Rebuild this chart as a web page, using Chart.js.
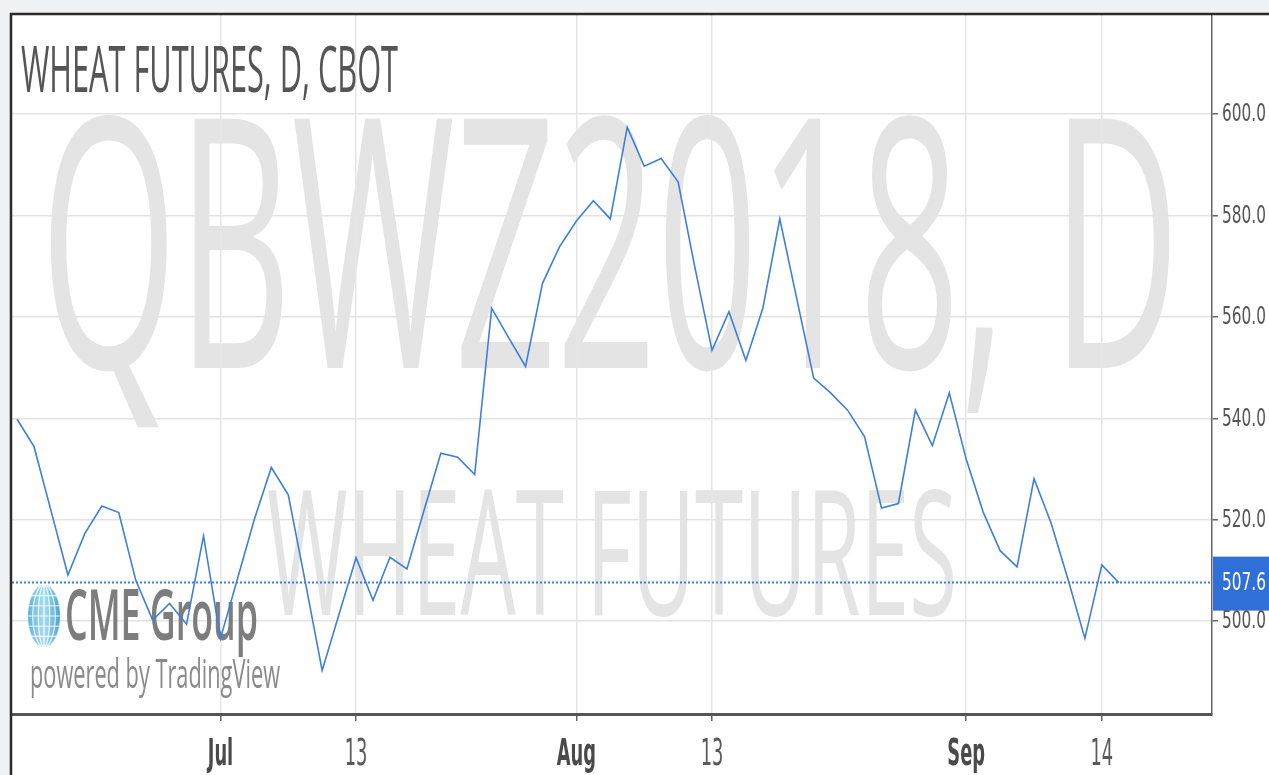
<!DOCTYPE html>
<html>
<head>
<meta charset="utf-8">
<title>Wheat Futures, D, CBOT</title>
<script src="https://cdn.jsdelivr.net/npm/chart.js@4.4.0/dist/chart.umd.min.js"></script>
<style>
  html, body { margin: 0; padding: 0; background: #eef2f5; }
  #chart { display: block; }
</style>
</head>
<body>
<canvas id="chart" width="1269" height="775"></canvas>
<script>
// trading days on the chart (Jul 4 and Sep 3 are holidays, no bar)
const dates = [
  'Jun 14', 'Jun 15', 'Jun 18', 'Jun 19', 'Jun 20', 'Jun 21', 'Jun 22', 'Jun 25', 'Jun 26', 'Jun 27',
  'Jun 28', 'Jun 29', 'Jul 2', 'Jul 3', 'Jul 5', 'Jul 6', 'Jul 9', 'Jul 10', 'Jul 11', 'Jul 12',
  'Jul 13', 'Jul 16', 'Jul 17', 'Jul 18', 'Jul 19', 'Jul 20', 'Jul 23', 'Jul 24', 'Jul 25', 'Jul 26',
  'Jul 27', 'Jul 30', 'Jul 31', 'Aug 1', 'Aug 2', 'Aug 3', 'Aug 6', 'Aug 7', 'Aug 8', 'Aug 9',
  'Aug 10', 'Aug 13', 'Aug 14', 'Aug 15', 'Aug 16', 'Aug 17', 'Aug 20', 'Aug 21', 'Aug 22', 'Aug 23',
  'Aug 24', 'Aug 27', 'Aug 28', 'Aug 29', 'Aug 30', 'Aug 31', 'Sep 4', 'Sep 5', 'Sep 6', 'Sep 7',
  'Sep 10', 'Sep 11', 'Sep 12', 'Sep 13', 'Sep 14', 'Sep 17'
];

// closing prices
const prices = [
  539.8, 534.4, 521.8, 509.1, 517.3, 522.7, 521.4, 508.1, 500.2, 503.5,
  499.4, 516.8, 496.6, 508.3, 520.1, 530.3, 524.9, 507.8, 490.3, 501.4,
  512.5, 504.1, 512.6, 510.3, 521.7, 533.1, 532.3, 528.9, 561.7, 555.9,
  550.2, 566.6, 573.8, 578.9, 582.9, 579.3, 597.4, 589.7, 591.2, 586.6,
  569.6, 553.4, 561.0, 551.4, 561.7, 579.3, 563.6, 547.9, 545.0, 541.6,
  536.4, 522.3, 523.2, 541.6, 534.6, 545.0, 531.9, 521.5, 513.9, 510.7,
  528.1, 519.4, 508.3, 496.6, 511.1, 507.6
];

const yTicks = [500, 520, 540, 560, 580, 600];
const xTickDates = ['Jul 2', 'Jul 13', 'Aug 1', 'Aug 13', 'Sep 4', 'Sep 14'];
const xTickLabels = ['Jul', '13', 'Aug', '13', 'Sep', '14'];
const monthLabels = ['Jul', 'Aug', 'Sep'];
const lastPrice = prices[prices.length - 1];

const lineBlue = '#3f7fdc';

// text in the picture is squeezed sideways, so draw it with a horizontal scale
function squeezed(ctx, text, x, y, font, sx, align, baseline, color) {
  ctx.save();
  ctx.font = font;
  ctx.fillStyle = color;
  ctx.textAlign = 'left';
  ctx.textBaseline = baseline;
  const w = ctx.measureText(text).width * sx;
  let left = x;
  if (align === 'center') left = x - w / 2;
  if (align === 'right') left = x - w;
  ctx.translate(left, y);
  ctx.scale(sx, 1);
  ctx.fillText(text, 0, 0);
  ctx.restore();
}

// squeeze a text so it fills the given width
function fitText(ctx, text, x, y, font, width, color) {
  ctx.save();
  ctx.font = font;
  const sx = width / ctx.measureText(text).width;
  ctx.restore();
  squeezed(ctx, text, x, y, font, sx, 'left', 'alphabetic', color);
}

function drawGlobe(ctx, cx, cy, rx, ry) {
  ctx.save();
  const g = ctx.createLinearGradient(cx - rx, cy, cx + rx, cy);
  g.addColorStop(0, '#5fb4dd');
  g.addColorStop(0.5, '#a9def3');
  g.addColorStop(1, '#4aa6d4');
  ctx.beginPath();
  ctx.ellipse(cx, cy, rx, ry, 0, 0, Math.PI * 2);
  ctx.fillStyle = g;
  ctx.fill();
  ctx.clip();
  ctx.strokeStyle = 'rgba(255,255,255,0.85)';
  ctx.lineWidth = 1.2;
  for (const k of [0.35, 0.7]) {
    ctx.beginPath();
    ctx.ellipse(cx, cy, rx * k, ry, 0, 0, Math.PI * 2);
    ctx.stroke();
  }
  ctx.beginPath();
  ctx.moveTo(cx, cy - ry);
  ctx.lineTo(cx, cy + ry);
  for (const f of [-0.66, -0.33, 0, 0.33, 0.66]) {
    ctx.moveTo(cx - rx, cy + f * ry);
    ctx.lineTo(cx + rx, cy + f * ry);
  }
  ctx.stroke();
  ctx.restore();
}

const decor = {
  id: 'decor',
  beforeDraw(chart) {
    const ctx = chart.ctx;
    ctx.save();
    ctx.fillStyle = '#eef2f5';
    ctx.fillRect(0, 0, chart.width, chart.height);
    ctx.fillStyle = '#ffffff';
    ctx.fillRect(11, 14, chart.width - 11, chart.height - 14);
    ctx.restore();
    // watermark
    fitText(ctx, 'QBWZ2018, D', 40, 368, '349px "Open Sans"', 1140, '#e4e4e4');
    fitText(ctx, 'WHEAT FUTURES', 267, 615, '175px "Open Sans"', 690, '#e4e4e4');
  },
  beforeDatasetsDraw(chart) {
    const ctx = chart.ctx;
    fitText(ctx, 'WHEAT FUTURES, D, CBOT', 21, 92, '64px "Open Sans"', 377, '#555555');
    drawGlobe(ctx, 44, 616, 16, 31);
    fitText(ctx, 'CME Group', 65, 640, '600 71px "Open Sans"', 193, '#7d7d7d');
    fitText(ctx, 'powered by TradingView', 30, 688, '40px "Open Sans"', 250, '#8a8a8a');
  },
  afterDatasetsDraw(chart) {
    const ctx = chart.ctx;
    const area = chart.chartArea;
    const xs = chart.scales.x;
    const ys = chart.scales.y;
    const py = ys.getPixelForValue(lastPrice);

    // last price dotted line
    ctx.save();
    ctx.strokeStyle = lineBlue;
    ctx.lineWidth = 2;
    ctx.setLineDash([2, 2]);
    ctx.beginPath();
    ctx.moveTo(area.left, py);
    ctx.lineTo(area.right, py);
    ctx.stroke();
    ctx.restore();

    // price axis labels
    ys.ticks.forEach(t => {
      squeezed(ctx, t.value.toFixed(1), area.right + 10, ys.getPixelForValue(t.value) + 1,
        '24px "DejaVu Sans"', 0.64, 'left', 'middle', '#555555');
    });

    // time axis labels
    xs.ticks.forEach((t, i) => {
      const label = xTickLabels[i];
      const bold = monthLabels.includes(label);
      squeezed(ctx, label, xs.getPixelForValue(t.value), 765,
        (bold ? 'bold ' : '') + '38px "DejaVu Sans"', 0.47, 'center', 'alphabetic',
        bold ? '#4a4a4a' : '#5a5a5a');
    });

    // last price box
    ctx.save();
    ctx.fillStyle = '#2f6fd7';
    ctx.fillRect(area.right + 1, py - 26, chart.width - area.right, 54);
    ctx.restore();
    squeezed(ctx, lastPrice.toFixed(1), area.right + 10, py + 1,
      '24px "DejaVu Sans"', 0.64, 'left', 'middle', '#ffffff');

    // frame
    ctx.save();
    ctx.strokeStyle = '#2b2b2b';
    ctx.lineWidth = 2.5;
    ctx.beginPath();
    ctx.moveTo(10, 14);
    ctx.lineTo(chart.width, 14);
    ctx.moveTo(11, 13);
    ctx.lineTo(11, chart.height);
    ctx.stroke();
    ctx.restore();
  }
};

new Chart(document.getElementById('chart'), {
  type: 'line',
  data: {
    datasets: [{
      label: 'QBWZ2018',
      data: prices.map((p, i) => ({ x: i, y: p })),
      borderColor: lineBlue,
      borderWidth: 1.6,
      pointRadius: 0,
      tension: 0,
      fill: false
    }]
  },
  options: {
    responsive: false,
    animation: false,
    events: [],
    layout: { padding: { left: 12, top: 15, right: 0, bottom: 0 } },
    plugins: {
      legend: { display: false },
      tooltip: { enabled: false }
    },
    scales: {
      x: {
        type: 'linear',
        min: -0.3,
        max: 70.5,
        afterBuildTicks: s => { s.ticks = xTickDates.map(d => ({ value: dates.indexOf(d) })); },
        afterFit: s => { s.height = 61; },
        ticks: { display: false },
        grid: { color: '#e6e6e6', lineWidth: 1.5, tickLength: 7, tickColor: '#666666', tickWidth: 1.5 },
        border: { color: '#555555', width: 3 }
      },
      y: {
        position: 'right',
        min: 481.7,
        max: 619.5,
        afterBuildTicks: s => { s.ticks = yTicks.map(v => ({ value: v })); },
        afterFit: s => { s.width = 57; },
        ticks: { display: false },
        grid: { color: '#e3e3e3', lineWidth: 1.5, tickLength: 6, tickColor: '#666666', tickWidth: 1.5 },
        border: { color: '#666666', width: 1.5 }
      }
    }
  },
  plugins: [decor]
});
</script>
</body>
</html>
